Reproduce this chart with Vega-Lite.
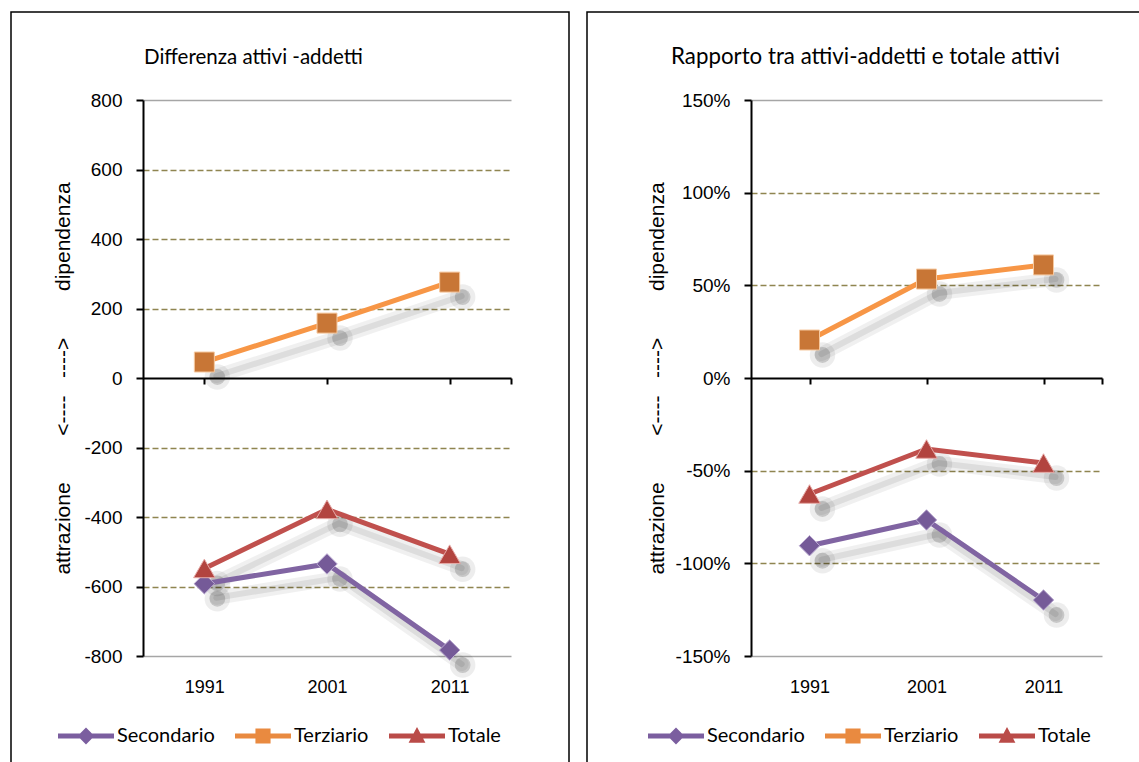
{
  "$schema": "https://vega.github.io/schema/vega-lite/v6.json",
  "padding": {"left": 10, "top": 11, "right": 0, "bottom": 0},
  "background": "white",
  "spacing": 16,
  "resolve": {"scale": {"stroke": "independent"}, "legend": {"stroke": "independent"}},
  "config": {
    "view": {"stroke": "#000000", "strokeWidth": 1.5},
    "axis": {"labelFont": "Liberation Sans", "labelFontSize": 19, "labelColor": "#000000", "titleFont": "Liberation Sans", "titleFontSize": 21, "titleFontWeight": "normal", "titleColor": "#000000"},
    "title": {"font": "Lato", "fontSize": 20.5, "fontWeight": "normal", "color": "#000000"},
    "legend": {"labelFont": "Lato", "labelFontSize": 20, "labelColor": "#000000"}
  },
  "datasets": {
    "d": [
      {"year": 1991, "series": "Secondario", "diff": -592, "ratio": -0.905},
      {"year": 2001, "series": "Secondario", "diff": -535, "ratio": -0.766},
      {"year": 2011, "series": "Secondario", "diff": -783, "ratio": -1.198},
      {"year": 1991, "series": "Terziario", "diff": 46, "ratio": 0.205},
      {"year": 2001, "series": "Terziario", "diff": 158, "ratio": 0.534},
      {"year": 2011, "series": "Terziario", "diff": 276, "ratio": 0.61},
      {"year": 1991, "series": "Totale", "diff": -548, "ratio": -0.626},
      {"year": 2001, "series": "Totale", "diff": -378, "ratio": -0.383},
      {"year": 2011, "series": "Totale", "diff": -507, "ratio": -0.459}
    ],
    "one": [{}]
  },
  "hconcat": [
    {
      "width": 558,
      "height": 756,
      "title": {"text": "Differenza attivi -addetti", "anchor": "start", "frame": "group", "dx": 133, "offset": -56},
      "data": {"name": "d"},
      "encoding": {
        "x": {"field": "year", "type": "quantitative",
          "scale": {"domain": [1986, 2016], "range": [132, 500], "nice": false, "zero": false},
          "axis": {"orient": "bottom", "offset": -390, "values": [1991, 2001, 2011, 2016], "format": "d",
            "labelExpr": "datum.value == 2016 ? '' : datum.label", "grid": false, "domain": true, "domainColor": "#000000", "domainWidth": 2,
            "ticks": true, "tickSize": 6, "tickWidth": 2, "tickColor": "#000000", "labelPadding": 294, "labelFontSize": 18, "title": null, "zindex": 0}},
        "y": {"field": "diff", "type": "quantitative",
          "scale": {"domain": [-800, 800], "range": [644, 88], "nice": false, "zero": false},
          "axis": {"orient": "left", "offset": -132, "values": [-800, -600, -400, -200, 0, 200, 400, 600, 800],
            "labelExpr": "replace(datum.label, '\u2212', '-')",
            "grid": true,
            "gridColor": {"condition": {"test": "abs(datum.value) == 800", "value": "#A6A6A6"}, "value": "#8F8550"},
            "gridDash": {"condition": {"test": "abs(datum.value) == 800", "value": []}, "value": [6, 3]},
            "gridOpacity": {"condition": {"test": "datum.value == 0", "value": 0}, "value": 1},
            "gridWidth": 1.6,
            "domainColor": "#000000", "domainWidth": 2, "tickColor": "#000000", "tickWidth": 2, "tickSize": 7, "labelPadding": 14,
            "title": "attrazione\u00a0\u00a0\u00a0\u00a0\u00a0\u00a0\u00a0\u00a0<----\u00a0\u00a0\u00a0---->\u00a0\u00a0\u00a0\u00a0\u00a0\u00a0\u00a0\u00a0dipendenza",
            "titlePadding": 10, "zindex": 0}}
      },
      "layer": [
        {"data": {"name": "one"},
         "mark": {"type": "rect", "fill": {"gradient": "linear", "x1": 0, "y1": 0, "x2": 1, "y2": 0, "stops": [{"offset": 0, "color": "rgba(0,0,0,0)"}, {"offset": 0.75, "color": "rgba(0,0,0,0)"}, {"offset": 1, "color": "rgba(0,0,0,0.06)"}]}},
         "encoding": {"x": {"datum": 1986}, "x2": {"datum": 2016}, "y": {"datum": 0}, "y2": {"datum": 800}}},
        {"data": {"name": "one"},
         "mark": {"type": "rect", "fill": {"gradient": "linear", "x1": 0, "y1": 0, "x2": 1, "y2": 1, "stops": [{"offset": 0, "color": "rgba(0,0,0,0)"}, {"offset": 0.3, "color": "rgba(0,0,0,0.02)"}, {"offset": 1, "color": "rgba(0,0,0,0.2)"}]}},
         "encoding": {"x": {"datum": 1986}, "x2": {"datum": 2016}, "y": {"datum": -800}, "y2": {"datum": 0}}},
        {"data": {"name": "one"},
         "mark": {"type": "rule", "color": "#A6A6A6", "strokeWidth": 1.5},
         "encoding": {"x": {"datum": 2016}, "y": {"datum": -800}, "y2": {"datum": 800}}},
        {"mark": {"type": "line", "color": "#000000", "opacity": 0.06, "strokeWidth": 14, "strokeCap": "round", "xOffset": 12, "yOffset": 14},
         "encoding": {"detail": {"field": "series"}}},
        {"mark": {"type": "line", "color": "#000000", "opacity": 0.08, "strokeWidth": 6, "strokeCap": "round", "xOffset": 12, "yOffset": 14},
         "encoding": {"detail": {"field": "series"}}},
        {"mark": {"type": "point", "filled": true, "color": "#000000", "opacity": 0.07, "size": 650, "shape": "circle", "xOffset": 13, "yOffset": 15}},
        {"mark": {"type": "point", "filled": true, "color": "#000000", "opacity": 0.16, "size": 250, "shape": "circle", "xOffset": 13, "yOffset": 15}},
        {"mark": {"type": "line", "strokeWidth": 5, "strokeCap": "round"},
         "encoding": {"stroke": {"field": "series", "type": "nominal", "scale": {"domain": ["Secondario", "Terziario", "Totale"], "range": ["#8064A2", "#F79646", "#C0504D"]},
           "legend": {"title": null, "orient": "none", "legendX": 47, "legendY": 696, "direction": "horizontal", "symbolSize": 3136, "labelOffset": 3, "columnPadding": 20,
             "encode": {"symbols": {"update": {
               "shape": {"signal": "datum.value == 'Secondario' ? 'M-1,-0.09L1,-0.09L1,0.09L-1,0.09ZM0,-0.3L0.3,0L0,0.3L-0.3,0Z' : datum.value == 'Terziario' ? 'M-1,-0.09L1,-0.09L1,0.09L-1,0.09ZM-0.27,-0.27L0.27,-0.27L0.27,0.27L-0.27,0.27Z' : 'M-1,-0.09L1,-0.09L1,0.09L-1,0.09ZM0,-0.32L0.3,0.24L-0.3,0.24Z'"},
               "fill": {"signal": "datum.value == 'Secondario' ? '#7B5E9F' : datum.value == 'Terziario' ? '#E98A40' : '#BA4B48'"},
               "stroke": {"value": "transparent"}, "strokeWidth": {"value": 0}, "size": {"value": 3136}, "opacity": {"value": 1}}}}}}}},
        {"transform": [{"filter": "datum.series == 'Secondario'"}],
         "mark": {"type": "point", "shape": "diamond", "filled": true, "fill": "#755A98", "stroke": "#B9A8D0", "strokeWidth": 1, "size": 420, "opacity": 1}},
        {"transform": [{"filter": "datum.series == 'Terziario'"}],
         "mark": {"type": "point", "shape": "square", "filled": true, "fill": "#C87636", "stroke": "#F6C9A0", "strokeWidth": 1, "size": 400, "opacity": 1}},
        {"transform": [{"filter": "datum.series == 'Totale'"}],
         "mark": {"type": "point", "shape": "triangle-up", "filled": true, "fill": "#B2443F", "stroke": "#E5A9A6", "strokeWidth": 1, "size": 460, "opacity": 1}}
      ]
    },
    {
      "width": 560,
      "height": 756,
      "title": {"text": "Rapporto tra attivi-addetti e totale attivi", "anchor": "start", "frame": "group", "dx": 84, "offset": -56, "fontSize": 22.3},
      "data": {"name": "d"},
      "encoding": {
        "x": {"field": "year", "type": "quantitative",
          "scale": {"domain": [1986, 2016], "range": [164, 515], "nice": false, "zero": false},
          "axis": {"orient": "bottom", "offset": -390, "values": [1991, 2001, 2011, 2016], "format": "d",
            "labelExpr": "datum.value == 2016 ? '' : datum.label", "grid": false, "domain": true, "domainColor": "#000000", "domainWidth": 2,
            "ticks": true, "tickSize": 6, "tickWidth": 2, "tickColor": "#000000", "labelPadding": 294, "labelFontSize": 18, "title": null, "zindex": 0}},
        "y": {"field": "ratio", "type": "quantitative",
          "scale": {"domain": [-1.5, 1.5], "range": [644, 88], "nice": false, "zero": false},
          "axis": {"orient": "left", "offset": -164, "values": [-1.5, -1, -0.5, 0, 0.5, 1, 1.5], "format": ".0%",
            "labelExpr": "replace(datum.label, '\u2212', '-')",
            "grid": true,
            "gridColor": {"condition": {"test": "abs(datum.value) == 1.5", "value": "#A6A6A6"}, "value": "#8F8550"},
            "gridDash": {"condition": {"test": "abs(datum.value) == 1.5", "value": []}, "value": [6, 3]},
            "gridOpacity": {"condition": {"test": "datum.value == 0", "value": 0}, "value": 1},
            "gridWidth": 1.6,
            "domainColor": "#000000", "domainWidth": 2, "tickColor": "#000000", "tickWidth": 2, "tickSize": 7, "labelPadding": 14,
            "title": "attrazione\u00a0\u00a0\u00a0\u00a0\u00a0\u00a0\u00a0\u00a0<----\u00a0\u00a0\u00a0---->\u00a0\u00a0\u00a0\u00a0\u00a0\u00a0\u00a0\u00a0dipendenza",
            "titlePadding": 8, "zindex": 0}}
      },
      "layer": [
        {"data": {"name": "one"},
         "mark": {"type": "rect", "fill": {"gradient": "linear", "x1": 0, "y1": 0, "x2": 1, "y2": 0, "stops": [{"offset": 0, "color": "rgba(0,0,0,0)"}, {"offset": 0.75, "color": "rgba(0,0,0,0)"}, {"offset": 1, "color": "rgba(0,0,0,0.06)"}]}},
         "encoding": {"x": {"datum": 1986}, "x2": {"datum": 2016}, "y": {"datum": 0}, "y2": {"datum": 1.5}}},
        {"data": {"name": "one"},
         "mark": {"type": "rect", "fill": {"gradient": "linear", "x1": 0, "y1": 0, "x2": 1, "y2": 1, "stops": [{"offset": 0, "color": "rgba(0,0,0,0)"}, {"offset": 0.3, "color": "rgba(0,0,0,0.02)"}, {"offset": 1, "color": "rgba(0,0,0,0.2)"}]}},
         "encoding": {"x": {"datum": 1986}, "x2": {"datum": 2016}, "y": {"datum": -1.5}, "y2": {"datum": 0}}},
        {"data": {"name": "one"},
         "mark": {"type": "rule", "color": "#A6A6A6", "strokeWidth": 1.5},
         "encoding": {"x": {"datum": 2016}, "y": {"datum": -1.5}, "y2": {"datum": 1.5}}},
        {"mark": {"type": "line", "color": "#000000", "opacity": 0.06, "strokeWidth": 14, "strokeCap": "round", "xOffset": 12, "yOffset": 14},
         "encoding": {"detail": {"field": "series"}}},
        {"mark": {"type": "line", "color": "#000000", "opacity": 0.08, "strokeWidth": 6, "strokeCap": "round", "xOffset": 12, "yOffset": 14},
         "encoding": {"detail": {"field": "series"}}},
        {"mark": {"type": "point", "filled": true, "color": "#000000", "opacity": 0.07, "size": 650, "shape": "circle", "xOffset": 13, "yOffset": 15}},
        {"mark": {"type": "point", "filled": true, "color": "#000000", "opacity": 0.16, "size": 250, "shape": "circle", "xOffset": 13, "yOffset": 15}},
        {"mark": {"type": "line", "strokeWidth": 5, "strokeCap": "round"},
         "encoding": {"stroke": {"field": "series", "type": "nominal", "scale": {"domain": ["Secondario", "Terziario", "Totale"], "range": ["#8064A2", "#F79646", "#C0504D"]},
           "legend": {"title": null, "orient": "none", "legendX": 61, "legendY": 696, "direction": "horizontal", "symbolSize": 3136, "labelOffset": 3, "columnPadding": 20,
             "encode": {"symbols": {"update": {
               "shape": {"signal": "datum.value == 'Secondario' ? 'M-1,-0.09L1,-0.09L1,0.09L-1,0.09ZM0,-0.3L0.3,0L0,0.3L-0.3,0Z' : datum.value == 'Terziario' ? 'M-1,-0.09L1,-0.09L1,0.09L-1,0.09ZM-0.27,-0.27L0.27,-0.27L0.27,0.27L-0.27,0.27Z' : 'M-1,-0.09L1,-0.09L1,0.09L-1,0.09ZM0,-0.32L0.3,0.24L-0.3,0.24Z'"},
               "fill": {"signal": "datum.value == 'Secondario' ? '#7B5E9F' : datum.value == 'Terziario' ? '#E98A40' : '#BA4B48'"},
               "stroke": {"value": "transparent"}, "strokeWidth": {"value": 0}, "size": {"value": 3136}, "opacity": {"value": 1}}}}}}}},
        {"transform": [{"filter": "datum.series == 'Secondario'"}],
         "mark": {"type": "point", "shape": "diamond", "filled": true, "fill": "#755A98", "stroke": "#B9A8D0", "strokeWidth": 1, "size": 420, "opacity": 1}},
        {"transform": [{"filter": "datum.series == 'Terziario'"}],
         "mark": {"type": "point", "shape": "square", "filled": true, "fill": "#C87636", "stroke": "#F6C9A0", "strokeWidth": 1, "size": 400, "opacity": 1}},
        {"transform": [{"filter": "datum.series == 'Totale'"}],
         "mark": {"type": "point", "shape": "triangle-up", "filled": true, "fill": "#B2443F", "stroke": "#E5A9A6", "strokeWidth": 1, "size": 460, "opacity": 1}}
      ]
    }
  ]
}
